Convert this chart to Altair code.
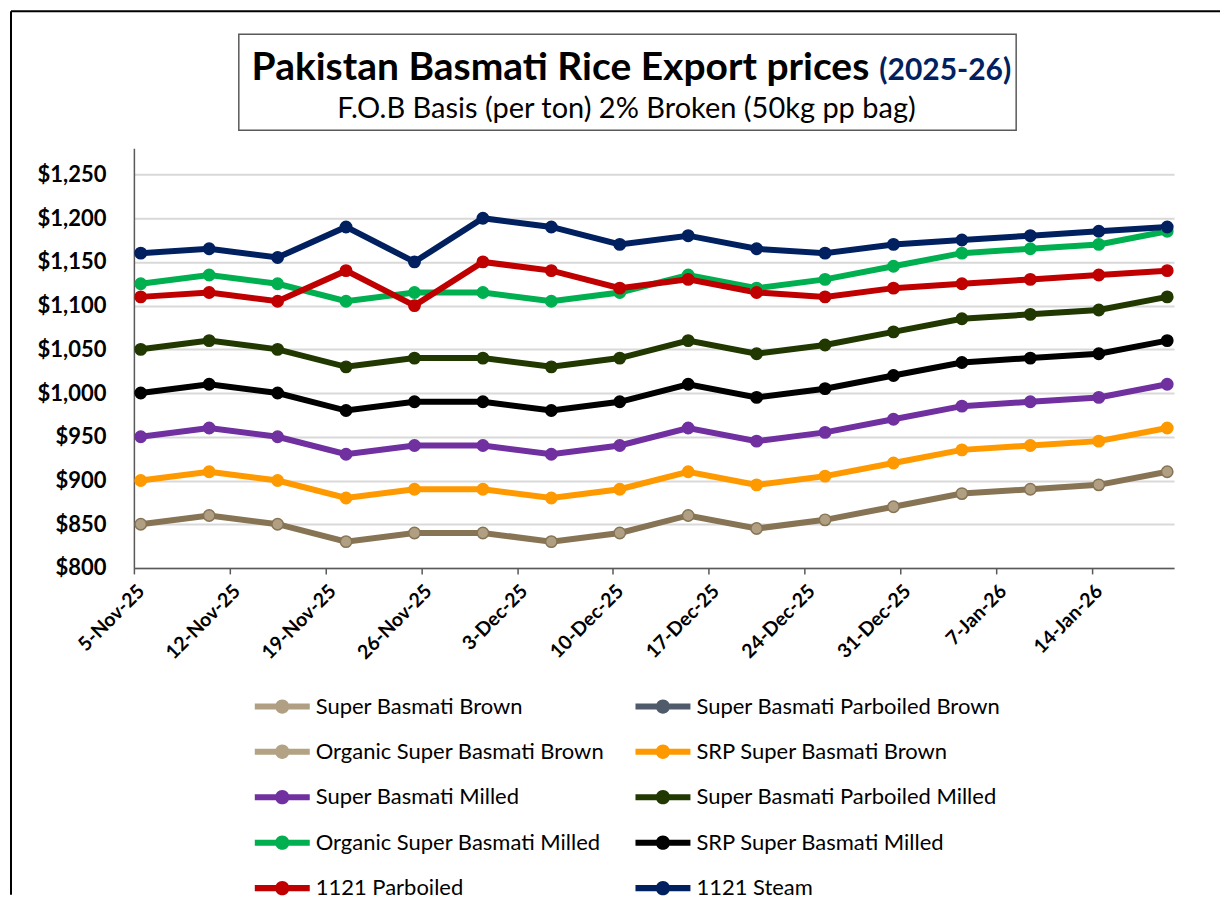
import altair as alt
import pandas as pd

# ---------------- data ----------------
dates = ["2025-11-05", "2025-11-10", "2025-11-15", "2025-11-20", "2025-11-25",
         "2025-11-30", "2025-12-05", "2025-12-10", "2025-12-15", "2025-12-20",
         "2025-12-25", "2025-12-30", "2026-01-04", "2026-01-09", "2026-01-14",
         "2026-01-19"]

series_names = ["Super Basmati Brown", "Super Basmati Parboiled Brown",
                "Organic Super Basmati Brown", "SRP Super Basmati Brown",
                "Super Basmati Milled", "Super Basmati Parboiled Milled",
                "Organic Super Basmati Milled", "SRP Super Basmati Milled",
                "1121 Parboiled", "1121 Steam"]

line_colors = ["#877455", "#4F5A6B", "#B3A283", "#FF9900", "#7030A0",
               "#213800", "#00B050", "#000000", "#C00000", "#002060"]
marker_fills = ["#B09F82", "#4F5A6B", "#B3A283", "#FF9900", "#7030A0",
                "#213800", "#00B050", "#000000", "#C00000", "#002060"]

super_basmati_brown = [850, 860, 850, 830, 840, 840, 830, 840, 860, 845, 855, 870, 885, 890, 895, 910]
srp_super_basmati_brown = [900, 910, 900, 880, 890, 890, 880, 890, 910, 895, 905, 920, 935, 940, 945, 960]
super_basmati_milled = [950, 960, 950, 930, 940, 940, 930, 940, 960, 945, 955, 970, 985, 990, 995, 1010]
super_basmati_parboiled_milled = [1050, 1060, 1050, 1030, 1040, 1040, 1030, 1040, 1060, 1045, 1055, 1070, 1085, 1090, 1095, 1110]
organic_super_basmati_milled = [1125, 1135, 1125, 1105, 1115, 1115, 1105, 1115, 1135, 1120, 1130, 1145, 1160, 1165, 1170, 1185]
srp_super_basmati_milled = [1000, 1010, 1000, 980, 990, 990, 980, 990, 1010, 995, 1005, 1020, 1035, 1040, 1045, 1060]
parboiled_1121 = [1110, 1115, 1105, 1140, 1100, 1150, 1140, 1120, 1130, 1115, 1110, 1120, 1125, 1130, 1135, 1140]
steam_1121 = [1160, 1165, 1155, 1190, 1150, 1200, 1190, 1170, 1180, 1165, 1160, 1170, 1175, 1180, 1185, 1190]

series_values = {
    "Super Basmati Brown": super_basmati_brown,
    "SRP Super Basmati Brown": srp_super_basmati_brown,
    "Super Basmati Milled": super_basmati_milled,
    "Super Basmati Parboiled Milled": super_basmati_parboiled_milled,
    "Organic Super Basmati Milled": organic_super_basmati_milled,
    "SRP Super Basmati Milled": srp_super_basmati_milled,
    "1121 Parboiled": parboiled_1121,
    "1121 Steam": steam_1121,
}

y_ticks = [800, 850, 900, 950, 1000, 1050, 1100, 1150, 1200, 1250]

rows = []
plotted_names, plotted_line_colors = [], []
for name, lc in zip(series_names, line_colors):
    vals = series_values.get(name)
    if vals is None:
        continue
    plotted_names.append(name)
    plotted_line_colors.append(lc)
    for d, v in zip(dates, vals):
        rows.append({"date": d + "T12:00:00Z", "series": name, "line_series": name, "price": v})
df = pd.DataFrame(rows)

# the legend grid fills column by column: reorder so that it reads row by row
n_rows = (len(series_names) + 1) // 2
legend_order = [series_names[r * 2 + c] for c in range(2) for r in range(n_rows)]
legend_fills = [marker_fills[series_names.index(n)] for n in legend_order]

tick_dates = pd.date_range("2025-11-05", "2026-01-14", freq="7D")
x_tick_values = [alt.DateTime(year=t.year, month=t.month, date=t.day, utc=True) for t in tick_dates]

FONT = "Lato"

x_enc = alt.X(
    "date:T",
    title=None,
    scale=alt.Scale(type="utc", domain=[alt.DateTime(year=2025, month=11, date=5, utc=True),
                                        alt.DateTime(year=2026, month=1, date=20, utc=True)]),
    axis=alt.Axis(values=x_tick_values, format="%-d-%b-%y", labelAngle=-45,
                  labelAlign="right", labelBaseline="middle", labelOffset=7,
                  labelFont=FONT, labelFontWeight="bold", labelFontSize=19.5,
                  labelColor="black", labelPadding=14, labelOverlap=False,
                  domainColor="#595959", domainWidth=1.5, tickColor="#595959",
                  tickWidth=1.5, tickSize=6, grid=False),
)
y_enc = alt.Y(
    "price:Q",
    title=None,
    scale=alt.Scale(domain=[800, 1280], nice=False, zero=False),
    axis=alt.Axis(values=y_ticks, format="$,.0f", labelFont=FONT,
                  labelFontWeight="bold", labelFontSize=22, labelColor="black",
                  labelPadding=28, ticks=False, domainColor="#595959",
                  domainWidth=1.5, grid=True, gridColor="#D9D9D9", gridWidth=2),
)

LEGEND_PATH = ("M-1,-0.11L-0.24,-0.11L-0.24,0.11L-1,0.11Z "
               "M0.24,-0.11L1,-0.11L1,0.11L0.24,0.11Z "
               "M0.26,0A0.26,0.26,0,1,1,-0.26,0A0.26,0.26,0,1,1,0.26,0Z")

# stroke scale has its own domain (plotted series only) so it is not merged with the fill legend
stroke_enc = alt.Stroke("line_series:N",
                        scale=alt.Scale(domain=plotted_names, range=plotted_line_colors),
                        legend=None)

lines = alt.Chart(df).mark_line(strokeWidth=6).encode(
    x=x_enc, y=y_enc, stroke=stroke_enc,
    order=alt.Order("date:T"),
)

points = alt.Chart(df).mark_point(filled=True, size=130, opacity=1, strokeWidth=1.5).encode(
    x=x_enc, y=y_enc, stroke=stroke_enc,
    fill=alt.Fill("series:N", scale=alt.Scale(domain=legend_order, range=legend_fills),
                  legend=alt.Legend(title=None, orient="none", legendX=121, legendY=531,
                                    columns=2, symbolType=LEGEND_PATH, symbolSize=3025,
                                    symbolStrokeWidth=0, symbolOpacity=1,
                                    labelFont=FONT, labelFontSize=22, labelColor="black",
                                    labelOffset=6, rowPadding=6.5, columnPadding=31,
                                    labelLimit=500, padding=0)),
)

dummy = pd.DataFrame({"a": [0]})
frame_top = alt.Chart(dummy).mark_rule(color="black", strokeWidth=2).encode(
    x=alt.value(-123), x2=alt.value(1087), y=alt.value(-137))
frame_left = alt.Chart(dummy).mark_rule(color="black", strokeWidth=2).encode(
    x=alt.value(-123), y=alt.value(-137), y2=alt.value(747))

title_box = alt.Chart(dummy).mark_rect(fill="white", stroke="#595959", strokeWidth=1.5).encode(
    x=alt.value(105), x2=alt.value(883), y=alt.value(-114), y2=alt.value(-18))

title_main = alt.Chart(dummy).mark_text(font=FONT, fontWeight="bold", fontSize=39,
                                        color="black", align="right", baseline="alphabetic").encode(
    x=alt.value(736), y=alt.value(-68), text=alt.value("Pakistan Basmati Rice Export prices"))
title_year = alt.Chart(dummy).mark_text(font=FONT, fontWeight="bold", fontSize=30,
                                        color="#002060", align="left", baseline="alphabetic").encode(
    x=alt.value(746), y=alt.value(-68), text=alt.value("(2025-26)"))
subtitle = alt.Chart(dummy).mark_text(font=FONT, fontSize=29, color="black",
                                      align="center", baseline="alphabetic").encode(
    x=alt.value(493), y=alt.value(-30), text=alt.value("F.O.B Basis (per ton) 2% Broken (50kg pp bag)"))

chart = alt.layer(
    frame_top, frame_left, title_box, title_main, title_year, subtitle, lines, points
).properties(
    width=1041, height=420,
    padding={"left": 2, "top": 2, "right": 0, "bottom": 0},
    background="white",
).configure_view(stroke=None)

chart.save("out.html", embed_options={"renderer": "svg", "actions": False})
